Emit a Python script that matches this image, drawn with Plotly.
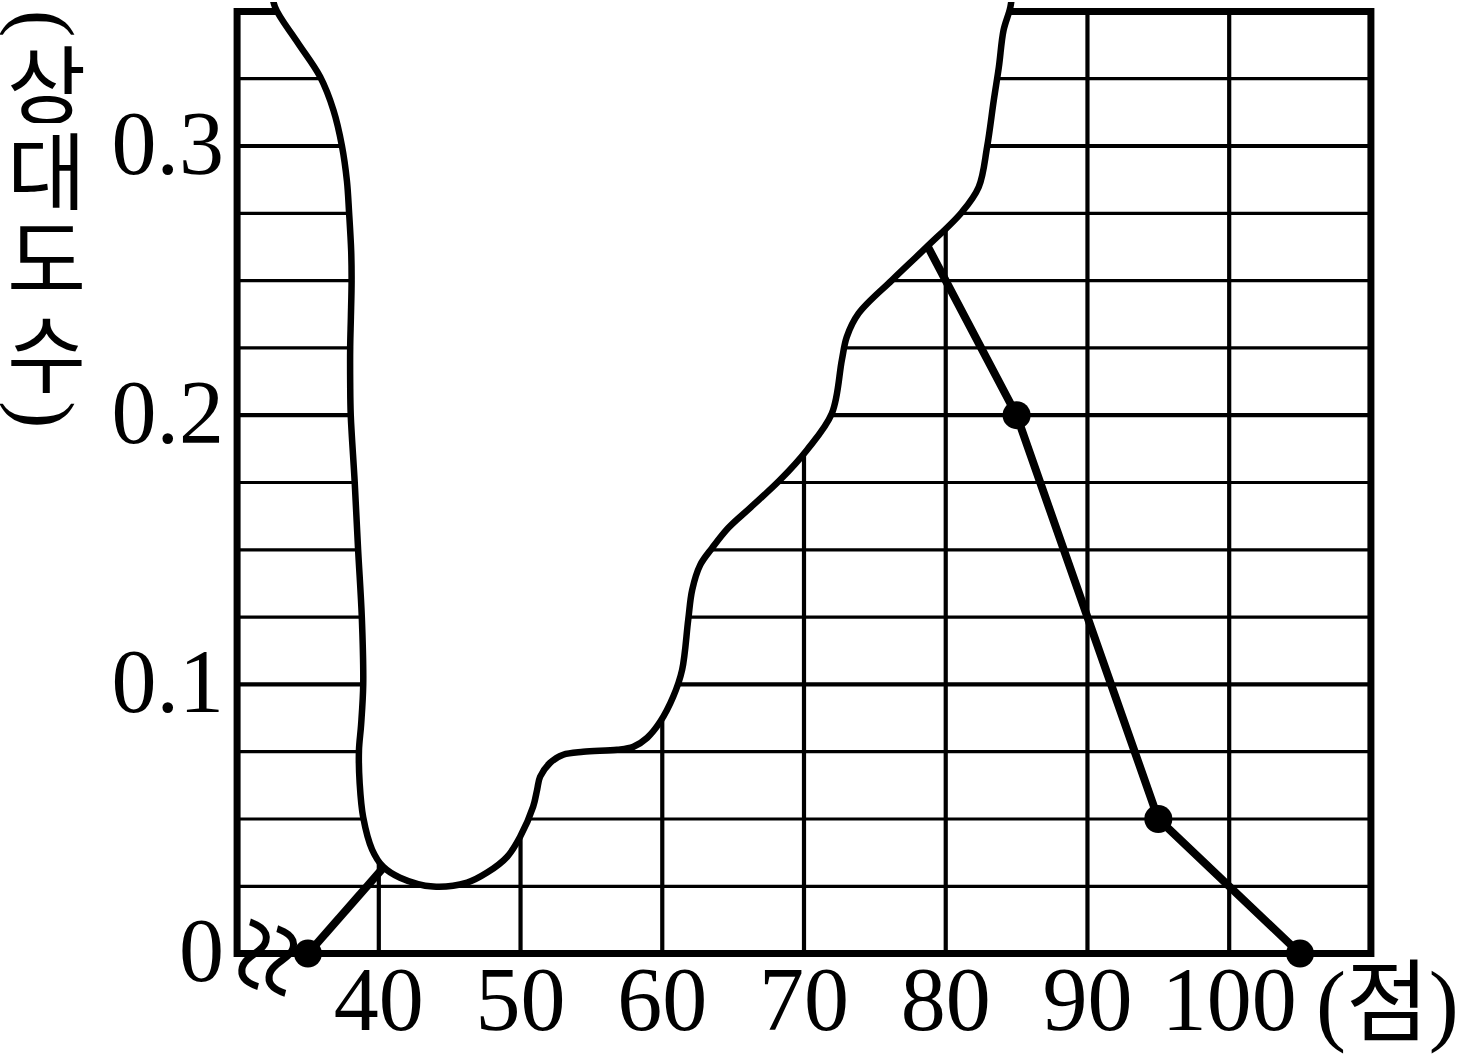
import plotly.graph_objects as go

# ---------------- data ----------------
scores = [35, 45, 55, 65, 75, 85, 95, 105]          # class marks (점)
rel_freq = [0, 0.06, None, None, 0.3, 0.2, 0.05, 0]  # 상대도수 (hidden part unknown)

x_tick_vals = [40, 50, 60, 70, 80, 90, 100]
x_tick_text = ["40", "50", "60", "70", "80", "90", "100"]
y_tick_vals = [0, 0.1, 0.2, 0.3]
y_tick_text = ["0", "0.1", "0.2", "0.3"]

x_grid_vals = [40, 50, 60, 70, 80, 90, 100]
y_grid_vals = [0.025, 0.05, 0.075, 0.1, 0.125, 0.15, 0.175, 0.2,
               0.225, 0.25, 0.275, 0.3, 0.325]
y_major_vals = [0.1, 0.2, 0.3]

# outline of the torn / blotted region (data coordinates)
blot_x = [32.4, 32.68, 34.2, 35.86, 36.8, 37.4, 37.75, 37.9, 38.05, 38.08, 38.03,
          37.98, 37.98, 38.02, 38.3, 38.54, 38.8, 38.9, 38.75, 38.6, 38.65, 38.9,
          39.53, 40.3, 41.5, 43.83, 46.23, 47.64, 49.06, 49.97, 50.89, 51.17, 51.38,
          52.09, 53.01, 54.42, 56.82, 57.95, 58.94, 59.85, 60.77, 61.4, 61.83,
          62.11, 62.68, 63.52, 64.65, 66.2, 68.32, 70.21, 71.97, 72.67, 73.02, 73.85,
          76.21, 78.68, 81.15, 82.33, 82.92, 83.39, 83.75, 84.08, 84.56, 84.75]
blot_y = [0.36, 0.3516, 0.339, 0.3257, 0.3133, 0.300, 0.287, 0.2755, 0.261, 0.250,
          0.2365, 0.2254, 0.212, 0.200, 0.175, 0.15, 0.125, 0.1, 0.085, 0.0755,
          0.0632, 0.0506, 0.0386, 0.0323, 0.0282, 0.0249, 0.0264, 0.0301, 0.036,
          0.0434, 0.0546, 0.0609, 0.0657, 0.0709, 0.0739, 0.075, 0.0757, 0.0768,
          0.0802, 0.0861, 0.0954, 0.1054, 0.124, 0.1351, 0.1444, 0.1507, 0.1581,
          0.1656, 0.176, 0.1871, 0.2007, 0.2205, 0.2291, 0.2378, 0.2502, 0.2626,
          0.2755, 0.2848, 0.2997, 0.317, 0.3294, 0.343, 0.3516, 0.36]

y_title_chars = ["(", "상", "대", "도", "수", ")"]
x_unit_label = "(점)"

# ---------------- layout geometry ----------------
W, H = 1474, 1057
ML, MR, MT, MB = 230, 96, 2, 98
X0, X1 = 30, 110
Y0, Y1 = 0, 0.35

def paper_x(px):
    return (px - ML) / (W - ML - MR)

def paper_y(py):
    return (H - MB - py) / (H - MT - MB)

SERIF = "Liberation Serif, Times New Roman, serif"
KR = "Liberation Serif, Noto Sans CJK KR, serif"

fig = go.Figure()

# polygon (frequency polygon)
fig.add_trace(go.Scatter(
    x=scores, y=rel_freq, mode="lines+markers",
    line=dict(color="black", width=8),
    marker=dict(size=28, color="black"),
    cliponaxis=False, hoverinfo="skip", connectgaps=False,
))

# blot covering part of the chart
fig.add_trace(go.Scatter(
    x=blot_x, y=blot_y, mode="lines", fill="toself", fillcolor="white",
    line=dict(color="black", width=6.5, shape="spline", smoothing=1.0),
    hoverinfo="skip",
))

shapes = []
for xv in x_grid_vals:
    shapes.append(dict(type="line", xref="x", yref="y", x0=xv, x1=xv, y0=Y0, y1=Y1,
                       line=dict(color="black", width=4.2), layer="below"))
for yv in y_grid_vals:
    w = 4.2 if yv in y_major_vals else 3.2
    shapes.append(dict(type="line", xref="x", yref="y", x0=X0, x1=X1, y0=yv, y1=yv,
                       line=dict(color="black", width=w), layer="below"))
shapes.append(dict(type="rect", xref="x", yref="y", x0=X0, x1=X1, y0=Y0, y1=Y1,
                   line=dict(color="black", width=7), layer="below"))

annotations = []
title_pos = [(45, 23), (46, 81), (46, 167), (46, 254), (46, 350), (45, 414)]
for ch, (px, py) in zip(y_title_chars, title_pos):
    is_paren = ch in "()"
    ann = dict(
        text=ch, xref="paper", yref="paper", x=paper_x(px), y=paper_y(py),
        xanchor="center", yanchor="middle", showarrow=False,
        textangle=90 if is_paren else 0,
        font=dict(family=SERIF if is_paren else "Noto Sans CJK KR",
                  size=82 if is_paren else 86, color="black"),
    )
    if not is_paren:
        ann["height"] = 85
    annotations.append(ann)

annotations.append(dict(
    text=x_unit_label, xref="paper", yref="paper", x=paper_x(1387), y=paper_y(1004),
    xanchor="center", yanchor="middle", showarrow=False,
    font=dict(family=KR, size=90, color="black"),
))

annotations.append(dict(
    text="≈", xref="paper", yref="paper", x=paper_x(266), y=paper_y(957),
    xanchor="center", yanchor="middle", showarrow=False, textangle=-76,
    font=dict(family=SERIF, size=140, color="black"),
))

fig.update_layout(
    width=W, height=H,
    margin=dict(l=ML, r=MR, t=MT, b=MB, pad=0),
    paper_bgcolor="white", plot_bgcolor="white",
    showlegend=False,
    shapes=shapes, annotations=annotations,
    xaxis=dict(range=[29.5, 110.5], showgrid=False, zeroline=False, showline=False,
               tickmode="array", tickvals=x_tick_vals, ticktext=x_tick_text,
               ticks="", automargin=False, ticklabelstandoff=-20,
               tickfont=dict(family=SERIF, size=90, color="black")),
    yaxis=dict(range=[-0.002, 0.3535], showgrid=False, zeroline=False, showline=False,
               tickmode="array", tickvals=y_tick_vals, ticktext=y_tick_text,
               ticks="", automargin=False, ticklabelstandoff=5, ticklabelshift=-4,
               tickfont=dict(family=SERIF, size=90, color="black")),
)

fig.write_html("out.html", config={"displayModeBar": False},
               post_script="document.body.style.margin='0px';")
